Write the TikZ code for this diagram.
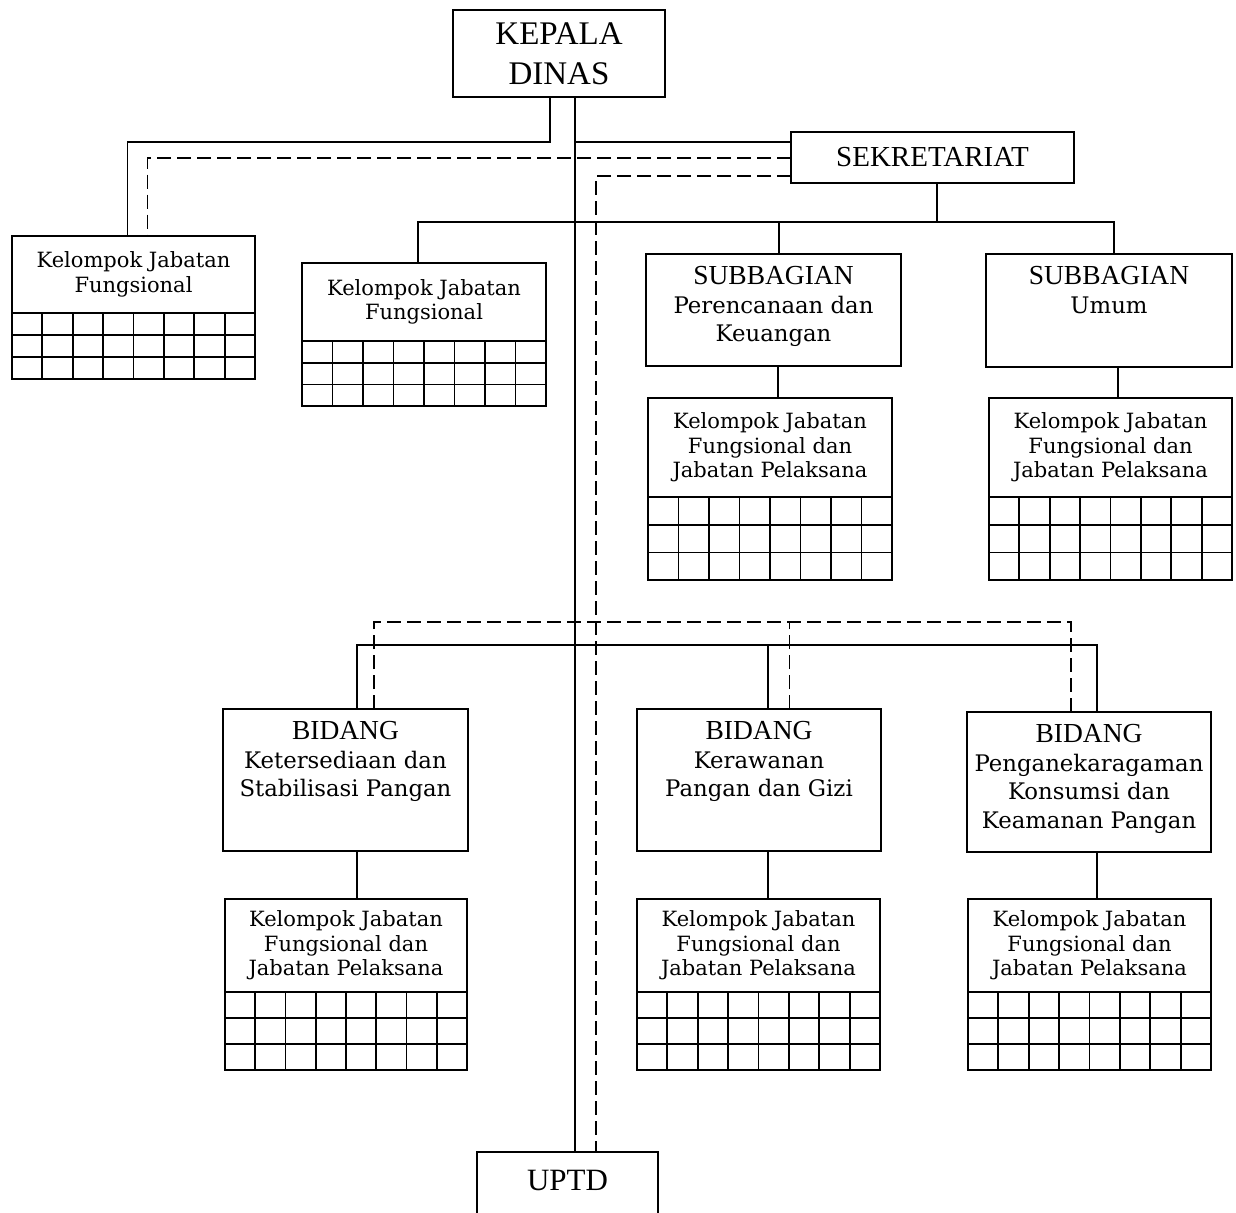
\documentclass[tikz,border=0pt]{standalone}
\usepackage{fontspec}
\setmainfont{Liberation Serif}
\newfontfamily\bookfont{DejaVu Serif}

\newcommand{\subtxt}{\bookfont\fontsize{22.8}{28}\selectfont}
% grid of 3 rows and 8 columns under a header node
\newcommand{\staffgrid}[3]{%
  \begin{scope}[shift={(#1.south west)}]
    \draw[gridline] (0,0) rectangle (#2,3*#3);
    \foreach \r in {1,2} \draw[gridline] (0,\r*#3) -- (#2,\r*#3);
    \foreach \c in {1,...,7} \draw[gridline] (\c*#2/8,0) -- (\c*#2/8,3*#3);
  \end{scope}}

\tikzset{
  orgbox/.style={draw, line width=2pt, inner sep=0pt, outer sep=0pt,
    anchor=north west, align=center},
  toptext/.style={anchor=north, inner sep=0pt, yshift=-12.5pt, align=center,
    font=\fontsize{27.5}{28.5}\selectfont},
  kjfbox/.style={orgbox, font=\bookfont\fontsize{21}{24.5}\selectfont},
  link/.style={line width=1.8pt},
  dotlink/.style={line width=1.8pt, dash pattern=on 14pt off 6pt},
  gridline/.style={line width=1.8pt}
}

\begin{document}
\begin{tikzpicture}[x=1pt, y=-1pt]
  \useasboundingbox (0,0) rectangle (1236,1212);

  % head and secretariat
  \node[orgbox, minimum width=212pt, minimum height=87pt,
    font=\fontsize{33}{40}\selectfont] (kadis) at (453,10) {KEPALA\\DINAS};
  \node[orgbox, minimum width=283pt, minimum height=51pt,
    font=\fontsize{29}{32}\selectfont] (sek) at (791,132) {SEKRETARIAT};

  % functional groups under the head
  \node[kjfbox, minimum width=243pt, minimum height=77pt] (kjf1) at (12,236)
    {Kelompok Jabatan\\Fungsional};
  \node[kjfbox, minimum width=244pt, minimum height=78pt] (kjf2) at (302,263)
    {Kelompok Jabatan\\Fungsional};

  % subbagian
  \node[orgbox, minimum width=255pt, minimum height=112pt,
    label={[toptext]north:{SUBBAGIAN\\{\subtxt Perencanaan dan}\\{\subtxt Keuangan}}}]
    (subpk) at (646,254) {};
  \node[orgbox, minimum width=246pt, minimum height=113pt,
    label={[toptext]north:{SUBBAGIAN\\{\subtxt Umum}}}]
    (subum) at (986,254) {};
  \node[kjfbox, minimum width=244pt, minimum height=99pt] (kjfpk) at (648,398)
    {Kelompok Jabatan\\Fungsional dan\\Jabatan Pelaksana};
  \node[kjfbox, minimum width=243pt, minimum height=99pt] (kjfum) at (989,398)
    {Kelompok Jabatan\\Fungsional dan\\Jabatan Pelaksana};

  % bidang
  \node[orgbox, minimum width=245pt, minimum height=142pt,
    label={[toptext]north:{BIDANG\\{\subtxt Ketersediaan dan}\\{\subtxt Stabilisasi Pangan}}}]
    (bid1) at (223,709) {};
  \node[orgbox, minimum width=244pt, minimum height=142pt,
    label={[toptext]north:{BIDANG\\{\subtxt Kerawanan}\\{\subtxt Pangan dan Gizi}}}]
    (bid2) at (637,709) {};
  \node[orgbox, minimum width=244pt, minimum height=140pt,
    label={[toptext]north:{BIDANG\\{\subtxt Penganekaragaman}\\{\subtxt Konsumsi dan}\\{\subtxt Keamanan Pangan}}}]
    (bid3) at (967,712) {};
  \node[kjfbox, minimum width=242pt, minimum height=93pt] (kjfb1) at (225,899)
    {Kelompok Jabatan\\Fungsional dan\\Jabatan Pelaksana};
  \node[kjfbox, minimum width=243pt, minimum height=93pt] (kjfb2) at (637,899)
    {Kelompok Jabatan\\Fungsional dan\\Jabatan Pelaksana};
  \node[kjfbox, minimum width=243pt, minimum height=93pt] (kjfb3) at (968,899)
    {Kelompok Jabatan\\Fungsional dan\\Jabatan Pelaksana};

  % UPTD, cut by the lower edge
  \node[orgbox, minimum width=181pt, minimum height=80pt,
    label={[anchor=north, inner sep=0pt, yshift=-18pt,
      font=\fontsize{31}{36}\selectfont]north:UPTD}] (uptd) at (477,1152) {};

  % grids
  \foreach \n/\w/\h in {kjf1/243/22, kjf2/244/21.7, kjfpk/244/27.7, kjfum/243/27.7,
      kjfb1/242/26, kjfb2/243/26, kjfb3/243/26}
    \staffgrid{\n}{\w}{\h};

  % solid lines
  \draw[link] ([xshift=-9pt]kadis.south) -- ++(0,45) -| ([xshift=-6pt]kjf1.north);
  \draw[link] ([xshift=16pt]kadis.south) coordinate (spine) -- (spine |- uptd.north);
  \coordinate (sekin) at ([yshift=15.5pt]sek.west);
  \draw[link] (spine |- sekin) -- (sekin);
  \draw[link] ([xshift=4.5pt]sek.south) -- ++(0,39) coordinate (bus1);
  \draw[link] ([xshift=-6pt]kjf2.north) |- (bus1) -| ([xshift=5pt]subum.north);
  \draw[link] ([xshift=5.5pt]subpk.north) |- (bus1);
  \draw[link] ([xshift=4.5pt]subpk.south) -- ([xshift=8pt]kjfpk.north);
  \draw[link] ([xshift=9pt]subum.south) -- ([xshift=7.5pt]kjfum.north);
  \coordinate (bidbus) at (575,645);
  \draw[link] ([xshift=11.5pt]bid1.north) |- (bidbus) -| ([xshift=8pt]bid3.north);
  \draw[link] ([xshift=9pt]bid2.north) |- (bidbus);
  \draw[link] ([xshift=11.5pt]bid1.south) -- ([xshift=11pt]kjfb1.north);
  \draw[link] ([xshift=9pt]bid2.south) -- ([xshift=9.5pt]kjfb2.north);
  \draw[link] ([xshift=8pt]bid3.south) -- ([xshift=7.5pt]kjfb3.north);

  % dashed lines
  \draw[dotlink] ([yshift=-0.5pt]sek.west) -| ([xshift=14pt]kjf1.north);
  \draw[dotlink] ([yshift=-18.5pt]sek.west) -| ([xshift=28.5pt]uptd.north);
  \coordinate (dbus) at (596,622);
  \draw[dotlink] ([xshift=28.5pt]bid1.north) |- (dbus) -| ([xshift=-18pt]bid3.north);
  \coordinate (bid2d) at ([xshift=30.5pt]bid2.north);
  \draw[dotlink] (bid2d) -- (bid2d |- dbus);
\end{tikzpicture}
\end{document}
